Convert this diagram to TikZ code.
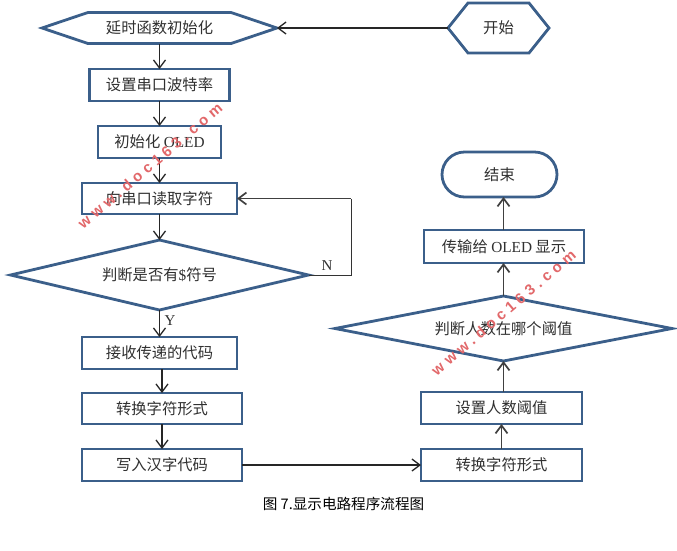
\documentclass[tikz,border=0pt]{standalone}
\usepackage{fontspec}
\setmainfont{Liberation Serif}
\newfontfamily\cjk{Noto Sans CJK SC}
\newfontfamily\wmfont[LetterSpace=30]{Liberation Sans}
\usetikzlibrary{arrows.meta,shapes.geometric,shapes.symbols,shapes.misc}
\definecolor{edgeblue}{HTML}{3B5F8A}
\definecolor{inkgrey}{HTML}{303030}
\definecolor{wmred}{HTML}{E2686A}
\tikzset{
  x=1pt,y=-1pt,
  shapebase/.style={draw=edgeblue,line width=2.8pt,fill=white,inner sep=0pt,outer sep=0pt,text=inkgrey,font=\fontsize{15.3}{16}\selectfont\cjk,align=center},
  procbox/.style={shapebase,rectangle},
  decide/.style={shapebase,diamond},
  hexa/.style={shapebase,signal,signal to=east and west},
  term/.style={shapebase,rounded rectangle},
  flow/.style={draw=black!85,line width=1.3pt,-{Straight Barb[length=8pt,width=12pt,line width=1.3pt]}},
  heavy/.style={draw=black!75,line width=1.7pt,-{Straight Barb[length=8pt,width=12pt,line width=1.7pt]}},
  thinline/.style={draw=black!80,line width=1pt},
  tag/.style={font=\fontsize{15}{15}\selectfont\rmfamily,text=inkgrey,inner sep=0pt},
  caption/.style={font=\fontsize{14.6}{15}\selectfont\cjk,text=black,inner sep=0pt},
  stamp/.style={font=\fontsize{15}{15}\selectfont\wmfont\bfseries,text=wmred,inner sep=0pt,rotate=40.4}
}
\begin{document}
\begin{tikzpicture}
\fill[white] (0,0) rectangle (677,550);
\useasboundingbox (0,0) rectangle (677,550);
% left column
\node[hexa,minimum width=235pt,minimum height=31pt,signal pointer angle=37.3] (init) at (159.5,28) {延时函数初始化};
\node[procbox,minimum width=140pt,minimum height=32pt] (baud) at (159.5,85) {设置串口波特率};
\node[procbox,minimum width=123pt,minimum height=32pt] (oled) at (159.5,142) {初始化 {\rmfamily OLED}};
\node[procbox,minimum width=155pt,minimum height=31pt] (read) at (159.5,198.5) {向串口读取字符};
\node[decide,minimum width=298pt,minimum height=70pt,aspect=4.257] (check) at (159.5,275) {判断是否有{\rmfamily\$}符号};
\node[procbox,minimum width=155pt,minimum height=32pt] (recv) at (159.5,353) {接收传递的代码};
\node[procbox,minimum width=160pt,minimum height=31pt] (conva) at (162,408.5) {转换字符形式};
\node[procbox,minimum width=160pt,minimum height=32pt] (write) at (162,465) {写入汉字代码};
% right column
\node[hexa,minimum width=101pt,minimum height=50pt,signal pointer angle=102.7] (start) at (498.5,28) {开始};
\node[term,minimum width=115pt,minimum height=45pt] (finish) at (499.5,174.5) {结束};
\node[procbox,minimum width=160pt,minimum height=33pt] (send) at (504,246.5) {传输给 {\rmfamily OLED} 显示};
\node[decide,minimum width=337pt,minimum height=65pt,aspect=5.185] (level) at (503.5,328.5) {判断人数在哪个阈值};
\node[procbox,minimum width=161pt,minimum height=32pt] (thresh) at (501.5,408) {设置人数阈值};
\node[procbox,minimum width=161pt,minimum height=32pt] (convb) at (501.5,465) {转换字符形式};
\coordinate (loop) at (351,198.5);
% connectors
\draw[flow] (start.west) -- (init.east);
\draw[flow] (init.south) -- (baud.north);
\draw[flow] (baud.south) -- (oled.north);
\draw[flow] (oled.south) -- (read.north);
\draw[flow] (read.south) -- (check.north);
\draw[thinline] (check.east) -| (loop);
\draw[heavy] (loop) -- (read.east);
\draw[flow] (check.south) -- (recv.north);
\draw[flow] (recv.south -| conva.north) -- (conva.north);
\draw[flow] (conva.south) -- (write.north);
\draw[flow] (write.east) -- (convb.west);
\draw[heavy] (convb.north) -- (thresh.south);
\draw[heavy] (level.south |- thresh.north) -- (level.south);
\draw[heavy] (level.north) -- (level.north |- send.south);
\draw[heavy] (level.north |- send.north) -- (level.north |- finish.south);
% labels
\node[tag] (nlab) at (327,266) {N};
\node[tag] (ylab) at (170,321) {Y};
\node[caption] (cap) at (343.5,504) {图 7.显示电路程序流程图};
\node[stamp] (wma) at (150,165.5) {www.doc163.com};
\node[stamp] (wmb) at (503.5,312.5) {www.doc163.com};
\end{tikzpicture}
\end{document}
